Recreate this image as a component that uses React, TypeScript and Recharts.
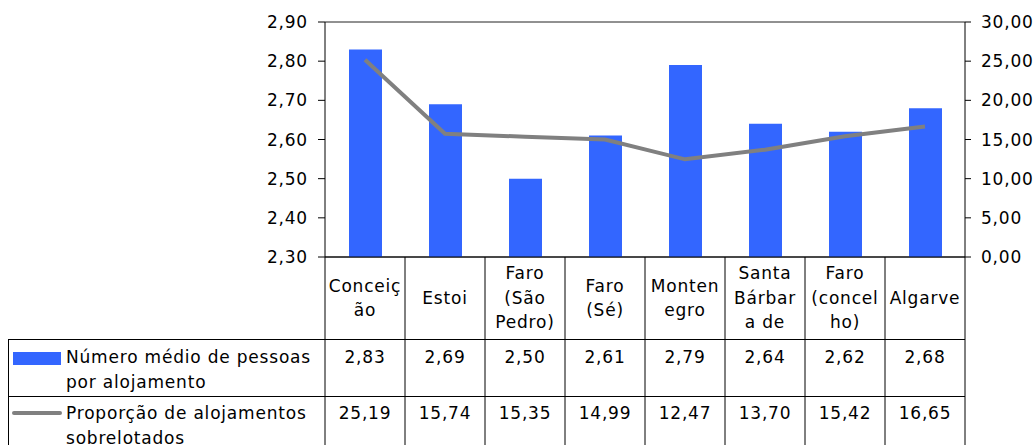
import { ComposedChart, Bar, Line, XAxis, YAxis, CartesianGrid } from "recharts";

const categories = [
  "Conceição",
  "Estoi",
  "Faro (São Pedro)",
  "Faro (Sé)",
  "Montenegro",
  "Santa Bárbara de Nexe",
  "Faro (concelho)",
  "Algarve",
];
// how the category names wrap in the table header
const categoryLines = [
  ["Conceiç", "ão"],
  ["Estoi"],
  ["Faro", "(São", "Pedro)"],
  ["Faro", "(Sé)"],
  ["Monten", "egro"],
  ["Santa", "Bárbar", "a de"],
  ["Faro", "(concel", "ho)"],
  ["Algarve"],
];
const pessoasPorAlojamento = [2.83, 2.69, 2.5, 2.61, 2.79, 2.64, 2.62, 2.68];
const alojamentosSobrelotados = [25.19, 15.74, 15.35, 14.99, 12.47, 13.7, 15.42, 16.65];
const barLabel = ["Número médio de pessoas", "por alojamento"];
const lineLabel = ["Proporção de alojamentos", "sobrelotados"];
const leftTicks = [2.3, 2.4, 2.5, 2.6, 2.7, 2.8, 2.9];
const rightTicks = [0, 5, 10, 15, 20, 25, 30];

const data = categories.map((c, i) => ({
  name: c,
  pessoas: pessoasPorAlojamento[i],
  sobrelotados: alojamentosSobrelotados[i],
}));

const BLUE = "#3366ff";
const GREY = "#808080";
const FONT = "DejaVu Sans";
const fmt = (v: number) => v.toFixed(2).replace(".", ",");

const textProps = {
  fontFamily: FONT,
  fontSize: 17,
  letterSpacing: 0.8,
  fill: "#000",
  dy: "0.35em",
};

const HALF = 40;
const PLOT_BOTTOM = 257;
const ROW1 = 339;
const ROW2 = 396;
const BOTTOM = 445;

function TableTick(props: any) {
  const { x, payload } = props;
  const i = categories.indexOf(payload.value);
  if (i < 0) return null;
  const lines = categoryLines[i];
  const headCenter = (PLOT_BOTTOM + ROW1) / 2;
  return (
    <g>
      {i === 0 && (
        <g>
          <line x1={x - HALF} x2={x - HALF} y1={PLOT_BOTTOM} y2={BOTTOM} stroke="#000" />
          <line x1={8.5} x2={8.5} y1={ROW1} y2={BOTTOM} stroke="#000" />
          <line x1={8} x2={x - HALF} y1={ROW1 + 0.5} y2={ROW1 + 0.5} stroke="#000" />
          <line x1={8} x2={x - HALF} y1={ROW2 + 0.5} y2={ROW2 + 0.5} stroke="#000" />
          <rect x={13} y={352} width={48} height={13} fill={BLUE} />
          <line x1={14} x2={60} y1={413} y2={413} stroke={GREY} strokeWidth={4} strokeLinecap="round" />
          {barLabel.map((t, j) => (
            <text key={t} x={66} y={357 + j * 25.5} textAnchor="start" {...textProps}>
              {t}
            </text>
          ))}
          {lineLabel.map((t, j) => (
            <text key={t} x={66} y={413 + j * 25.5} textAnchor="start" {...textProps}>
              {t}
            </text>
          ))}
        </g>
      )}
      <line x1={x + HALF} x2={x + HALF} y1={PLOT_BOTTOM} y2={BOTTOM} stroke="#000" />
      <line x1={x - HALF} x2={x + HALF} y1={ROW1 + 0.5} y2={ROW1 + 0.5} stroke="#000" />
      <line x1={x - HALF} x2={x + HALF} y1={ROW2 + 0.5} y2={ROW2 + 0.5} stroke="#000" />
      {lines.map((t, j) => (
        <text
          key={j}
          x={x}
          y={headCenter + (j - (lines.length - 1) / 2) * 24.5}
          textAnchor="middle"
          {...textProps}
        >
          {t}
        </text>
      ))}
      <text x={x} y={357} textAnchor="middle" {...textProps}>
        {fmt(pessoasPorAlojamento[i])}
      </text>
      <text x={x} y={413} textAnchor="middle" {...textProps}>
        {fmt(alojamentosSobrelotados[i])}
      </text>
    </g>
  );
}

export default function App() {
  const tickStyle = { fontFamily: FONT, fontSize: 17, letterSpacing: 0.8, fill: "#000" };
  return (
    <div style={{ position: "fixed", left: 0, top: 0, width: 1036, height: 445, overflow: "hidden", background: "#fff" }}>
      <ComposedChart
        width={1036}
        height={445}
        data={data}
        margin={{ top: 22, right: 0, bottom: 0, left: 0 }}
        barCategoryGap={0}
      >
        <CartesianGrid vertical={false} stroke="#222" />
        <XAxis
          dataKey="name"
          height={BOTTOM - PLOT_BOTTOM}
          interval={0}
          tickLine={false}
          tickSize={0}
          tickMargin={0}
          axisLine={{ stroke: "#000" }}
          tick={<TableTick />}
        />
        <YAxis
          yAxisId="left"
          orientation="left"
          width={325}
          domain={[2.3, 2.9]}
          ticks={leftTicks}
          tickFormatter={fmt}
          tickSize={7}
          tickMargin={10}
          axisLine={{ stroke: "#000" }}
          tickLine={{ stroke: "#000" }}
          tick={tickStyle}
          allowDataOverflow
        />
        <YAxis
          yAxisId="right"
          orientation="right"
          width={71}
          domain={[0, 30]}
          ticks={rightTicks}
          tickFormatter={fmt}
          tickSize={6}
          tickMargin={10}
          axisLine={{ stroke: "#000" }}
          tickLine={{ stroke: "#000" }}
          tick={{ ...tickStyle, textAnchor: "start" }}
        />
        <Bar yAxisId="left" dataKey="pessoas" fill={BLUE} barSize={33} isAnimationActive={false} />
        <Line
          yAxisId="right"
          dataKey="sobrelotados"
          type="linear"
          stroke={GREY}
          strokeWidth={4}
          dot={false}
          isAnimationActive={false}
        />
      </ComposedChart>
    </div>
  );
}
